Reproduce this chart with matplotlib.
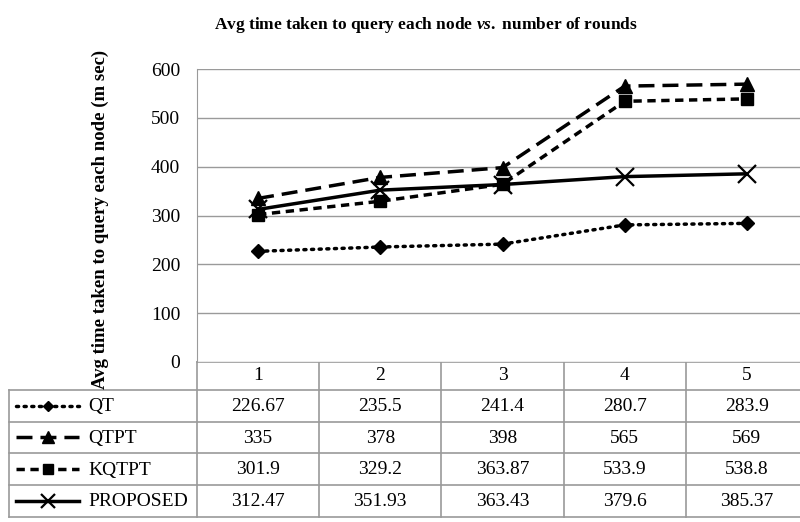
import matplotlib
matplotlib.use('Agg')
import matplotlib.pyplot as plt
from matplotlib import transforms
from matplotlib.lines import Line2D

# data --------------------------------------------------------------------------------------------------
rounds = [1, 2, 3, 4, 5]
series_names = ['QT', 'QTPT', 'KQTPT', 'PROPOSED']
qt = [226.67, 235.5, 241.4, 280.7, 283.9]
qtpt = [335, 378, 398, 565, 569]
kqtpt = [301.9, 329.2, 363.87, 533.9, 538.8]
proposed = [312.47, 351.93, 363.43, 379.6, 385.37]
cell_text = [['226.67', '235.5', '241.4', '280.7', '283.9'],
             ['335', '378', '398', '565', '569'],
             ['301.9', '329.2', '363.87', '533.9', '538.8'],
             ['312.47', '351.93', '363.43', '379.6', '385.37']]
y_ticks = [0, 100, 200, 300, 400, 500, 600]
#--------------------------------------------------------------------------------------------------------

plt.rcParams['font.family'] = 'Liberation Serif'
plt.rcParams['mathtext.fontset'] = 'custom'
plt.rcParams['mathtext.rm'] = 'Liberation Serif:bold'
plt.rcParams['mathtext.it'] = 'Liberation Serif:italic:bold'

styles = [dict(ls=(0, (0.6, 1.6)), marker='D', ms=7, dash_capstyle='round'),
          dict(ls=(0, (4.6, 2.3)), marker='^', ms=10),
          dict(ls=(0, (2.4, 1.6)), marker='s', ms=9),
          dict(ls='-', marker='x', ms=13, mew=1.6)]
values = [qt, qtpt, kqtpt, proposed]
grey = '#9a9a9a'

fig = plt.figure(figsize=(8, 5.22), dpi=100)
W, H = 800, 522

# full-figure axes in pixel units for the data table
tab = fig.add_axes([0, 0, 1, 1])
tab.set_xlim(0, W)
tab.set_ylim(H, 0)
tab.axis('off')

ax = fig.add_axes([197 / W, 1 - 362 / H, (808 - 197) / W, (362 - 69) / H])
ax.set_xlim(0.5, 5.5)
ax.set_ylim(0, 600)
ax.set_yticks(y_ticks)
ax.set_xticks([])
ax.tick_params(axis='y', length=0, pad=12, labelsize=14)
ax.grid(axis='y', color=grey, lw=1)
ax.set_axisbelow(True)
for s in ['top', 'right', 'bottom']:
    ax.spines[s].set_visible(False)
ax.spines['left'].set_color(grey)

for vals, st in zip(values, styles):
    ax.plot(rounds, vals, color='k', lw=2.5, clip_on=False, **st)

fig.text(426 / W, 1 - 25 / H, r'Avg time taken to query each node $\mathit{vs.}$ number of rounds',
         ha='center', va='center', fontsize=12.5, fontweight='bold')
fig.text(100 / W, 1 - 219 / H, 'Avg time taken to query each node (m sec)', rotation=90,
         ha='center', va='center', fontsize=13.5, fontweight='bold')

# table -------------------------------------------------------------------------------------------------
trans = transforms.blended_transform_factory(ax.transData, tab.transData)
head_top, head_bot = 362, 390
row_edges = [390, 421.5, 453, 485, 517]
x_left, x_key = 9, 197

def hline(y, x0, x1):
    tab.add_line(Line2D([x0, x1], [y, y], color=grey, lw=1.2, clip_on=False))

hline(head_top, x_key, 808)
for y in row_edges:
    hline(y, x_left, 808)
tab.add_line(Line2D([x_left, x_left], [row_edges[0], row_edges[-1]], color=grey, lw=1.2))
tab.add_line(Line2D([x_key, x_key], [head_top, row_edges[-1]], color=grey, lw=1.2))
for r in rounds:
    tab.add_line(Line2D([r + 0.5, r + 0.5], [head_top, row_edges[-1]], color=grey, lw=1.2,
                        transform=trans, clip_on=False))
    tab.text(r, (head_top + head_bot) / 2, str(r), transform=trans, ha='center', va='center',
             fontsize=14)

for i, name in enumerate(series_names):
    yc = (row_edges[i] + row_edges[i + 1]) / 2
    st = dict(styles[i])
    st['ms'] = st['ms'] * 0.8
    tab.add_line(Line2D([16, 47.5, 79], [yc, yc, yc], color='k', lw=2.5, markevery=[1], **st))
    tab.text(88, yc + 1, name, ha='left', va='center', fontsize=14)
    for r, txt in zip(rounds, cell_text[i]):
        tab.text(r, yc + 1, txt, transform=trans, ha='center', va='center', fontsize=14)

fig.savefig('out.png', dpi=100)
